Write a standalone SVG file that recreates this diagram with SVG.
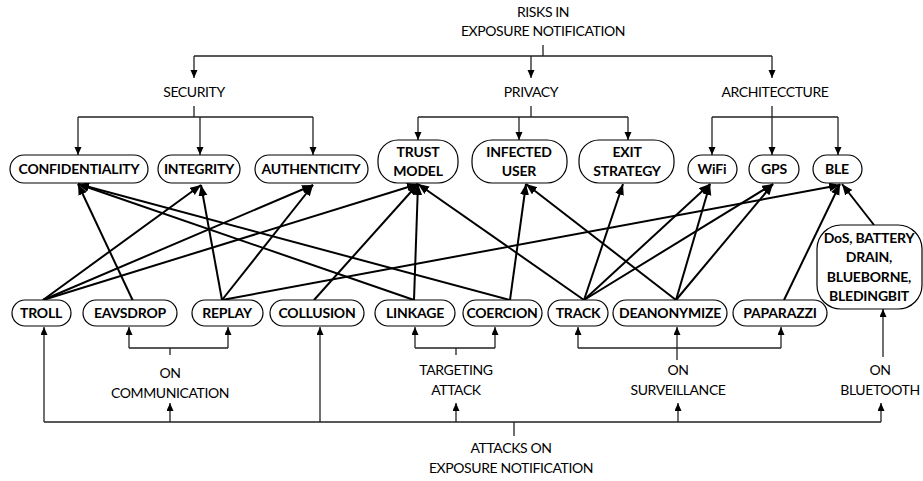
<svg xmlns="http://www.w3.org/2000/svg" width="923" height="481" viewBox="0 0 923 481">
<style>
.n rect{fill:#fff;stroke:#000;stroke-width:1.2}
.n text{font-family:Lato,"Liberation Sans",sans-serif;font-weight:bold;font-size:14px;letter-spacing:-0.2px;fill:#000;text-anchor:middle}
.lbl{font-family:Lato,"Liberation Sans",sans-serif;font-size:14px;letter-spacing:-0.4px;fill:#000;text-anchor:middle}
.t{fill:none;stroke:#222;stroke-width:1.3}
.ta{fill:none;stroke:#222;stroke-width:1.3;marker-end:url(#sa)}
.c line{stroke:#000;stroke-width:2;marker-end:url(#ba)}
</style>
<defs>
<marker id="sa" markerUnits="userSpaceOnUse" markerWidth="10" markerHeight="10" refX="8" refY="3.5" orient="auto"><path d="M0,0 L8,3.5 L0,7 z" fill="#000"/></marker>
<marker id="ba" markerUnits="userSpaceOnUse" markerWidth="12" markerHeight="12" refX="11" refY="4.5" orient="auto"><path d="M0,0 L11,4.5 L0,9 z" fill="#000"/></marker>
</defs>

<!-- labels -->
<g id="labels">
<text class="lbl" x="543" y="17">RISKS IN</text>
<text class="lbl" x="543" y="36">EXPOSURE NOTIFICATION</text>
<text class="lbl" x="194" y="97">SECURITY</text>
<text class="lbl" x="531" y="97">PRIVACY</text>
<text class="lbl" x="775" y="97">ARCHITECCTURE</text>
<text class="lbl" x="170" y="378">ON</text>
<text class="lbl" x="170" y="398">COMMUNICATION</text>
<text class="lbl" x="456" y="375">TARGETING</text>
<text class="lbl" x="456" y="395">ATTACK</text>
<text class="lbl" x="678" y="375">ON</text>
<text class="lbl" x="678" y="395">SURVEILLANCE</text>
<text class="lbl" x="880" y="375">ON</text>
<text class="lbl" x="880" y="395">BLUETOOTH</text>
<text class="lbl" x="511" y="453">ATTACKS ON</text>
<text class="lbl" x="511" y="473">EXPOSURE NOTIFICATION</text>
</g>

<!-- tree connectors -->
<g id="tree">
<path class="t" d="M543,45 V56 M194,56 H772"/>
<path class="ta" d="M194,56 V78"/>
<path class="ta" d="M531,56 V78"/>
<path class="ta" d="M772,56 V78"/>
<path class="t" d="M194,106 V117 M78,117 H313"/>
<path class="ta" d="M78,117 V155"/>
<path class="ta" d="M200,117 V155"/>
<path class="ta" d="M313,117 V155"/>
<path class="t" d="M531,106 V117 M418,117 H628"/>
<path class="ta" d="M418,117 V140"/>
<path class="ta" d="M519,117 V140"/>
<path class="ta" d="M628,117 V140"/>
<path class="t" d="M772,106 V117 M712,117 H838"/>
<path class="ta" d="M712,117 V155"/>
<path class="ta" d="M772,117 V155"/>
<path class="ta" d="M838,117 V155"/>
<path class="t" d="M44,422 H881 M514,422 V436"/>
<path class="ta" d="M44,422 V327"/>
<path class="ta" d="M170,422 V403"/>
<path class="ta" d="M320,422 V327"/>
<path class="ta" d="M456,422 V403"/>
<path class="ta" d="M678,422 V403"/>
<path class="ta" d="M881,422 V403"/>
<path class="t" d="M170,355 V348 H129 M170,348 H228"/>
<path class="ta" d="M129,348 V327"/>
<path class="ta" d="M228,348 V327"/>
<path class="t" d="M456,355 V348 H415 M456,348 H495"/>
<path class="ta" d="M415,348 V327"/>
<path class="ta" d="M495,348 V327"/>
<path class="t" d="M578,348 H781"/>
<path class="ta" d="M677,360 V327"/>
<path class="ta" d="M578,348 V327"/>
<path class="ta" d="M781,348 V327"/>
<path class="ta" d="M883,357 V309"/>
</g>

<!-- cross connectors -->
<g id="connectors" class="c">
<line x1="43" y1="300" x2="201" y2="185"/>
<line x1="43" y1="300" x2="313" y2="185"/>
<line x1="43" y1="300" x2="418" y2="184"/>
<line x1="133" y1="301" x2="78" y2="184"/>
<line x1="222" y1="300" x2="201" y2="185"/>
<line x1="222" y1="300" x2="313" y2="185"/>
<line x1="222" y1="300" x2="840" y2="185"/>
<line x1="314" y1="300" x2="418" y2="184"/>
<line x1="414" y1="300" x2="418" y2="184"/>
<line x1="414" y1="300" x2="78" y2="184"/>
<line x1="510" y1="300" x2="78" y2="184"/>
<line x1="510" y1="300" x2="526" y2="184"/>
<line x1="584" y1="300" x2="418" y2="184"/>
<line x1="584" y1="300" x2="623" y2="184"/>
<line x1="584" y1="300" x2="710" y2="184"/>
<line x1="584" y1="300" x2="773" y2="184"/>
<line x1="676" y1="300" x2="526" y2="184"/>
<line x1="676" y1="300" x2="710" y2="184"/>
<line x1="676" y1="300" x2="773" y2="184"/>
<line x1="784" y1="300" x2="840" y2="184"/>
<line x1="874" y1="225" x2="842" y2="184"/>
</g>

<!-- nodes -->
<g id="confidentiality" class="n"><rect x="10" y="155" width="138" height="28" rx="14"/><text x="79" y="174">CONFIDENTIALITY</text></g>
<g id="integrity" class="n"><rect x="158" y="155" width="82" height="28" rx="14"/><text x="199" y="174">INTEGRITY</text></g>
<g id="authenticity" class="n"><rect x="255" y="155" width="113" height="28" rx="14"/><text x="311" y="174">AUTHENTICITY</text></g>
<g id="trust-model" class="n"><rect x="378" y="140" width="80" height="43" rx="20"/><text x="418" y="157">TRUST</text><text x="418" y="176">MODEL</text></g>
<g id="infected-user" class="n"><rect x="472" y="140" width="95" height="43" rx="20"/><text x="519" y="157">INFECTED</text><text x="519" y="176">USER</text></g>
<g id="exit-strategy" class="n"><rect x="579" y="140" width="95" height="43" rx="20"/><text x="627" y="157">EXIT</text><text x="627" y="176">STRATEGY</text></g>
<g id="wifi" class="n"><rect x="688" y="155" width="49" height="28" rx="14"/><text x="712" y="174">WiFi</text></g>
<g id="gps" class="n"><rect x="749" y="155" width="50" height="28" rx="14"/><text x="774" y="174">GPS</text></g>
<g id="ble" class="n"><rect x="813" y="155" width="49" height="28" rx="14"/><text x="837" y="174">BLE</text></g>

<g id="troll" class="n"><rect x="12" y="300" width="59" height="26" rx="13"/><text x="41" y="318">TROLL</text></g>
<g id="eavsdrop" class="n"><rect x="83" y="300" width="94" height="26" rx="13"/><text x="130" y="318">EAVSDROP</text></g>
<g id="replay" class="n"><rect x="192" y="300" width="71" height="26" rx="13"/><text x="227" y="318">REPLAY</text></g>
<g id="collusion" class="n"><rect x="270" y="300" width="94" height="26" rx="13"/><text x="317" y="318">COLLUSION</text></g>
<g id="linkage" class="n"><rect x="375" y="300" width="80" height="26" rx="13"/><text x="415" y="318">LINKAGE</text></g>
<g id="coercion" class="n"><rect x="463" y="300" width="79" height="26" rx="13"/><text x="502" y="318">COERCION</text></g>
<g id="track" class="n"><rect x="548" y="300" width="60" height="26" rx="13"/><text x="578" y="318">TRACK</text></g>
<g id="deanonymize" class="n"><rect x="613" y="300" width="114" height="26" rx="13"/><text x="670" y="318">DEANONYMIZE</text></g>
<g id="paparazzi" class="n"><rect x="733" y="300" width="94" height="26" rx="13"/><text x="780" y="318">PAPARAZZI</text></g>
<g id="dos" class="n"><rect x="817" y="225" width="105" height="84" rx="24"/><text x="869" y="243">DoS, BATTERY</text><text x="869" y="262">DRAIN,</text><text x="869" y="282">BLUEBORNE,</text><text x="869" y="301">BLEDINGBIT</text></g>
</svg>
